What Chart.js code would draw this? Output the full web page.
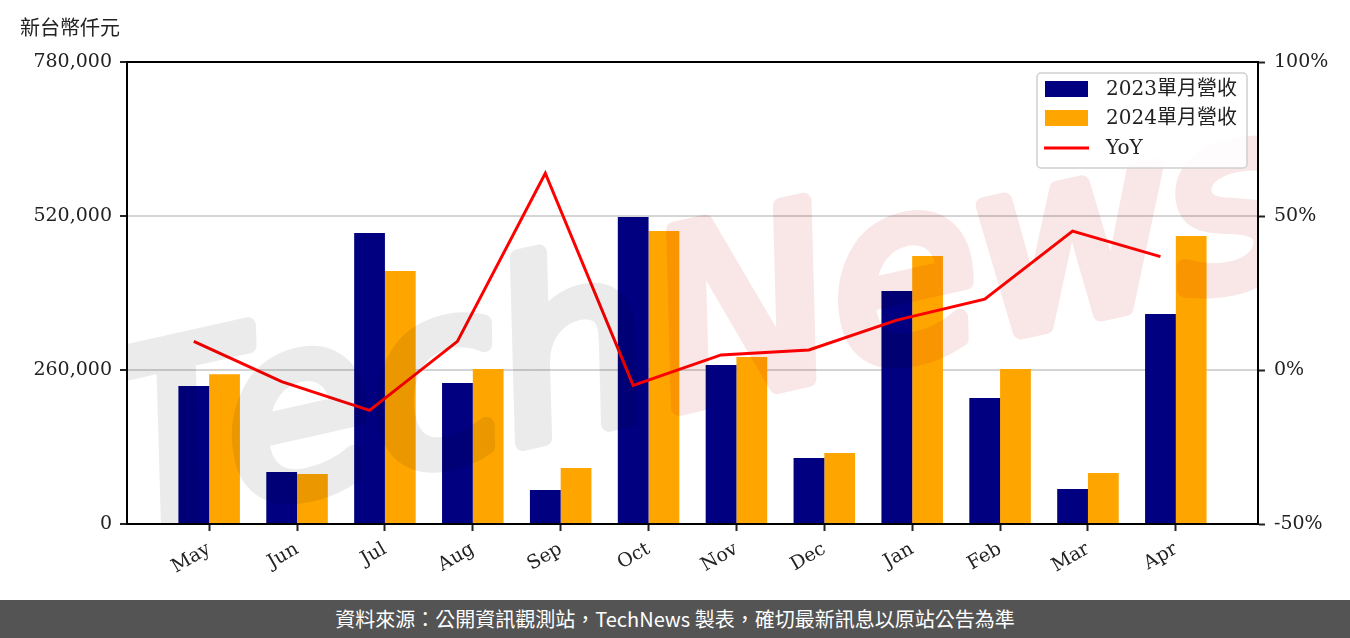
<!DOCTYPE html>
<html>
<head>
<meta charset="utf-8">
<script src="https://cdn.jsdelivr.net/npm/chart.js@4.4.1/dist/chart.umd.min.js"></script>
<style>
  html, body { margin: 0; padding: 0; background: #fff; }
  #wrap { position: relative; width: 1350px; height: 600px; }
  #footer {
    width: 1350px; height: 38px; line-height: 38px;
    background: #545454; color: #fff; text-align: center;
    font-family: 'Noto Sans CJK TC', sans-serif; font-size: 20px;
  }
</style>
</head>
<body>
<div id="wrap"><canvas id="revChart" width="1350" height="600"></canvas></div>
<div id="footer">資料來源：公開資訊觀測站，TechNews 製表，確切最新訊息以原站公告為準</div>
<script>
// values (新台幣仟元 / %)
const months = ['May', 'Jun', 'Jul', 'Aug', 'Sep', 'Oct', 'Nov', 'Dec', 'Jan', 'Feb', 'Mar', 'Apr'];
const rev2023 = [233000, 87800, 491300, 238000, 57400, 518300, 268400, 111400, 393400, 212700, 59100, 354500];
const rev2024 = [253000, 84400, 427100, 261700, 94500, 494700, 281900, 119900, 452500, 261700, 86100, 486200];
const yoy = [9.3, -3.8, -13.1, 9.3, 63.9, -5.0, 4.9, 6.5, 16.2, 23.0, 45.1, 36.8];
const leftTicks = [0, 260000, 520000, 780000];
const rightTicks = [-50, 0, 50, 100];
const seriesNames = ['2023單月營收', '2024單月營收', 'YoY'];

// YoY points sit over the 2023 bar, half a bar left of the month tick
const yoyShift = -0.175;

const serif = "'DejaVu Serif', 'Noto Sans CJK TC', serif";

const toXY = (arr, shift) => arr.map((v, i) => ({ x: i + (shift || 0), y: v }));

// watermark drawn once on a side canvas, then multiplied over the plot
function makeWatermark() {
  const off = document.createElement('canvas');
  off.width = 1350; off.height = 600;
  const c = off.getContext('2d');
  c.translate(650, 330);
  c.rotate(-0.22);
  c.font = "italic 240px 'DejaVu Sans'";
  c.textBaseline = 'middle';
  c.lineWidth = 16;
  c.lineJoin = 'round';
  c.textAlign = 'right';
  c.fillStyle = c.strokeStyle = '#ebebeb';
  c.fillText('Tech', -5, 20);
  c.strokeText('Tech', -5, 20);
  c.textAlign = 'left';
  c.fillStyle = c.strokeStyle = '#f9e6e6';
  c.fillText('News', 5, 20);
  c.strokeText('News', 5, 20);
  return off;
}
const wm = makeWatermark();

// frame, title, legend box and watermark
const extras = {
  id: 'extras',
  afterDatasetsDraw(chart) {
    const ctx = chart.ctx;
    const a = chart.chartArea;
    ctx.save();
    ctx.beginPath();
    ctx.rect(a.left, a.top, a.right - a.left, a.bottom - a.top);
    ctx.clip();
    ctx.globalCompositeOperation = 'multiply';
    ctx.drawImage(wm, 0, 0);
    ctx.restore();
  },
  afterDraw(chart) {
    const ctx = chart.ctx;
    const a = chart.chartArea;
    ctx.save();
    ctx.strokeStyle = '#000';
    ctx.lineWidth = 2;
    ctx.beginPath();
    ctx.moveTo(a.left - 1, a.top);
    ctx.lineTo(a.right + 1, a.top);
    ctx.stroke();

    ctx.fillStyle = '#222';
    ctx.font = "20px 'Noto Sans CJK TC'";
    ctx.textBaseline = 'middle';
    ctx.fillText('新台幣仟元', 20, 27);

    // legend
    const lx = 1037, ly = 73, lw = 210, lh = 95;
    ctx.fillStyle = 'rgba(255,255,255,0.85)';
    ctx.strokeStyle = '#d0d0d0';
    ctx.lineWidth = 1.5;
    ctx.beginPath();
    ctx.roundRect(lx, ly, lw, lh, 4);
    ctx.fill();
    ctx.stroke();
    const ds = chart.data.datasets;
    const rows = [89, 118, 148];
    ctx.font = '20px ' + serif;
    ds.forEach((d, i) => {
      const y = rows[i];
      if (d.type === 'line') {
        ctx.strokeStyle = d.borderColor;
        ctx.lineWidth = 3;
        ctx.beginPath();
        ctx.moveTo(1044, y);
        ctx.lineTo(1089, y);
        ctx.stroke();
      } else {
        ctx.fillStyle = d.backgroundColor;
        ctx.fillRect(1045, y - 8, 43, 16);
      }
      ctx.fillStyle = '#222';
      ctx.fillText(d.label, 1106, y + 1);
    });
    ctx.restore();
  }
};

new Chart(document.getElementById('revChart'), {
  data: {
    datasets: [
      {
        type: 'bar', label: seriesNames[0], data: toXY(rev2023),
        backgroundColor: '#000080', yAxisID: 'y', order: 2,
        categoryPercentage: 0.7, barPercentage: 1
      },
      {
        type: 'bar', label: seriesNames[1], data: toXY(rev2024),
        backgroundColor: '#ffa500', yAxisID: 'y', order: 2,
        categoryPercentage: 0.7, barPercentage: 1
      },
      {
        type: 'line', label: seriesNames[2], data: toXY(yoy, yoyShift),
        borderColor: '#ff0000', borderWidth: 3, pointRadius: 0,
        tension: 0, yAxisID: 'y1', order: 1
      }
    ]
  },
  options: {
    responsive: false,
    animation: false,
    layout: { padding: { top: 62, left: 0, right: 0, bottom: 0 } },
    plugins: { legend: { display: false }, tooltip: { enabled: false } },
    scales: {
      x: {
        type: 'linear', min: -0.935, max: 11.935, offset: false,
        afterBuildTicks: s => { s.ticks = months.map((m, i) => ({ value: i })); },
        afterFit: s => { s.height = 76; },
        ticks: {
          callback: v => months[v],
          autoSkip: false, minRotation: 30, maxRotation: 30,
          font: { family: serif, size: 19 }, color: '#222', padding: 7
        },
        grid: { offset: false, drawOnChartArea: false, tickLength: 7, tickColor: '#222', tickWidth: 2 },
        border: { color: '#000', width: 2 }
      },
      y: {
        position: 'left', min: 0, max: 780000,
        afterBuildTicks: s => { s.ticks = leftTicks.map(v => ({ value: v })); },
        afterFit: s => { s.width = 127; },
        ticks: {
          callback: v => v.toLocaleString('en-US'),
          font: { family: serif, size: 19 }, color: '#222', padding: 8
        },
        grid: {
          color: c => (c.tick && c.tick.value > 0 && c.tick.value < 780000) ? '#d4d4d4' : 'rgba(0,0,0,0)',
          lineWidth: 2, tickLength: 7, tickColor: '#222', tickWidth: 2
        },
        border: { color: '#000', width: 2 }
      },
      y1: {
        position: 'right', min: -50, max: 100,
        afterBuildTicks: s => { s.ticks = rightTicks.map(v => ({ value: v })); },
        afterFit: s => { s.width = 92; },
        ticks: {
          callback: v => v + '%',
          font: { family: serif, size: 19 }, color: '#222', padding: 9
        },
        grid: { drawOnChartArea: false, tickLength: 7, tickColor: '#222', tickWidth: 2 },
        border: { color: '#000', width: 2 }
      }
    }
  },
  plugins: [extras]
});
</script>
</body>
</html>
